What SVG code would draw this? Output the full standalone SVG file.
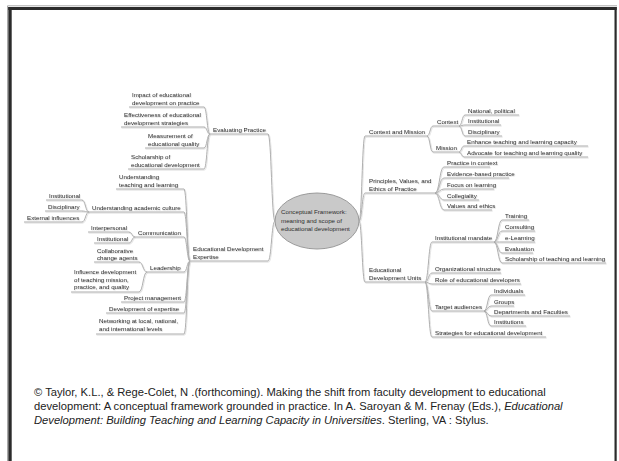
<svg xmlns="http://www.w3.org/2000/svg" width="619" height="461" viewBox="0 0 619 461">
<defs>
<style>
.t{font-family:"Liberation Sans",Arial,sans-serif;font-size:6.2px;fill:#2e2e2e}
.u{stroke:#b0b0b0;stroke-width:1;fill:none}
.c{stroke:#b0b0b0;stroke-width:1;fill:none}
.f{font-family:"Liberation Sans",Arial,sans-serif;font-size:11.2px;fill:#222}
.i{font-style:italic}
</style>
<filter id="sh" x="-5%" y="-5%" width="110%" height="110%"><feDropShadow dx="0.6" dy="0.8" stdDeviation="0.4" flood-color="#000" flood-opacity="0.18"/></filter>
</defs>
<rect width="619" height="461" fill="#fff"/>
<g id="frame">
<path d="M7.5,461V5.8H617" fill="none" stroke="#aaa" stroke-width="1"/>
<rect x="8.3" y="7" width="3.4" height="454" fill="#2b2b2b"/>
<rect x="8.3" y="7" width="608.4" height="3" fill="#2b2b2b"/>
<rect x="614.5" y="7" width="2.2" height="454" fill="#2b2b2b"/>
</g>
<g id="connectors" filter="url(#sh)">
<path class="c" d="M275,221C271.5,221 271.5,134 268,134"/>
<path class="c" d="M275,221C271.5,221 271.5,261 268,261"/>
<path class="c" d="M210,134C207,134 207,107 204,107"/>
<path class="c" d="M210,134C207,134 207,127 204,127"/>
<path class="c" d="M210,134C207,134 207,148 204,148"/>
<path class="c" d="M210,134C207,134 207,169 204,169"/>
<path class="c" d="M190,261C187,261 187,189 184,189"/>
<path class="c" d="M190,261C187,261 187,212 184,212"/>
<path class="c" d="M190,261C187,261 187,237 184,237"/>
<path class="c" d="M190,261C187,261 187,272 184,272"/>
<path class="c" d="M190,261C187,261 187,302 184,302"/>
<path class="c" d="M190,261C187,261 187,313 184,313"/>
<path class="c" d="M190,261C187,261 187,334 184,334"/>
<path class="c" d="M89,212C85.5,212 85.5,200 82,200"/>
<path class="c" d="M89,212C85.5,212 85.5,211 82,211"/>
<path class="c" d="M89,212C85.5,212 85.5,222 82,222"/>
<path class="c" d="M135,237C132,237 132,232 129,232"/>
<path class="c" d="M135,237C132,237 132,243 129,243"/>
<path class="c" d="M147,272C143,272 143,262 139,262"/>
<path class="c" d="M147,272C143,272 143,292 139,292"/>
<path class="c" d="M359,221C362,221 362,136 365,136"/>
<path class="c" d="M359,221C362,221 362,193 365,193"/>
<path class="c" d="M359,221C362,221 362,282 365,282"/>
<path class="c" d="M427,136C430,136 430,126 433,126"/>
<path class="c" d="M427,136C430,136 430,152 433,152"/>
<path class="c" d="M459,126C462,126 462,115 465,115"/>
<path class="c" d="M459,126C462,126 462,125 465,125"/>
<path class="c" d="M459,126C462,126 462,136 465,136"/>
<path class="c" d="M459,152C461.5,152 461.5,146 464,146"/>
<path class="c" d="M459,152C461.5,152 461.5,157 464,157"/>
<path class="c" d="M435,193C439.5,193 439.5,167 444,167"/>
<path class="c" d="M435,193C439.5,193 439.5,178 444,178"/>
<path class="c" d="M435,193C439.5,193 439.5,189 444,189"/>
<path class="c" d="M435,193C439.5,193 439.5,200 444,200"/>
<path class="c" d="M435,193C439.5,193 439.5,210 444,210"/>
<path class="c" d="M425,282C428.5,282 428.5,242 432,242"/>
<path class="c" d="M425,282C428.5,282 428.5,273 432,273"/>
<path class="c" d="M425,282C428.5,282 428.5,284 432,284"/>
<path class="c" d="M425,282C428.5,282 428.5,311 432,311"/>
<path class="c" d="M425,282C428.5,282 428.5,337 432,337"/>
<path class="c" d="M494,242C498,242 498,220 502,220"/>
<path class="c" d="M494,242C498,242 498,231 502,231"/>
<path class="c" d="M494,242C498,242 498,242 502,242"/>
<path class="c" d="M494,242C498,242 498,253 502,253"/>
<path class="c" d="M494,242C498,242 498,263 502,263"/>
<path class="c" d="M484,311C487.5,311 487.5,295 491,295"/>
<path class="c" d="M484,311C487.5,311 487.5,306 491,306"/>
<path class="c" d="M484,311C487.5,311 487.5,316 491,316"/>
<path class="c" d="M484,311C487.5,311 487.5,326 491,326"/>
</g>
<g id="n-center">
<ellipse cx="317" cy="221" rx="42" ry="28" fill="#c9c9c9" stroke="#9a9a9a" stroke-width="1"/>
<text class="t" x="281" y="214"><tspan x="281">Conceptual Framework:</tspan><tspan x="281" dy="8.5">meaning and scope of</tspan><tspan x="281" dy="8.5">educational development</tspan></text>
</g>
<g id="nodes-left" filter="url(#sh)">
<g id="n-ep"><text class="t" x="213" y="132.2">Evaluating Practice</text><path class="u" d="M210,134H268"/></g>
<g id="n-impact"><text class="t" x="132" y="97.2"><tspan x="132">Impact of educational</tspan><tspan x="132" dy="7.8">development on practice</tspan></text><path class="u" d="M129,107H204"/></g>
<g id="n-effect"><text class="t" x="124" y="117.2"><tspan x="124">Effectiveness of educational</tspan><tspan x="124" dy="7.8">development strategies</tspan></text><path class="u" d="M121,127H204"/></g>
<g id="n-measure"><text class="t" x="148" y="138.2"><tspan x="148">Measurement of</tspan><tspan x="148" dy="7.8">educational quality</tspan></text><path class="u" d="M145,148H204"/></g>
<g id="n-scholar"><text class="t" x="131" y="159.2"><tspan x="131">Scholarship of</tspan><tspan x="131" dy="7.8">educational development</tspan></text><path class="u" d="M128,169H204"/></g>
<g id="n-ede"><text class="t" x="193" y="251.2"><tspan x="193">Educational Development</tspan><tspan x="193" dy="7.8">Expertise</tspan></text><path class="u" d="M190,261H268"/></g>
<g id="n-utl"><text class="t" x="119" y="179.2"><tspan x="119">Understanding</tspan><tspan x="119" dy="7.8">teaching and learning</tspan></text><path class="u" d="M116,189H184"/></g>
<g id="n-uac"><text class="t" x="92" y="210.2">Understanding academic culture</text><path class="u" d="M89,212H184"/></g>
<g id="n-uac-inst"><text class="t" x="49" y="198.2">Institutional</text><path class="u" d="M46,200H82"/></g>
<g id="n-uac-disc"><text class="t" x="48" y="209.2">Disciplinary</text><path class="u" d="M45,211H82"/></g>
<g id="n-uac-ext"><text class="t" x="27" y="220.2">External influences</text><path class="u" d="M24,222H82"/></g>
<g id="n-comm"><text class="t" x="138" y="235.2">Communication</text><path class="u" d="M135,237H184"/></g>
<g id="n-comm-inter"><text class="t" x="91" y="230.2">Interpersonal</text><path class="u" d="M88,232H129"/></g>
<g id="n-comm-inst"><text class="t" x="97" y="241.2">Institutional</text><path class="u" d="M94,243H129"/></g>
<g id="n-lead"><text class="t" x="150" y="270.2">Leadership</text><path class="u" d="M147,272H184"/></g>
<g id="n-collab"><text class="t" x="97" y="252.5"><tspan x="97">Collaborative</tspan><tspan x="97" dy="7.7">change agents</tspan></text><path class="u" d="M94,262H139"/></g>
<g id="n-influence"><text class="t" x="74" y="274.2"><tspan x="74">Influence development</tspan><tspan x="74" dy="7.6">of teaching mission,</tspan><tspan x="74" dy="7.6">practice, and quality</tspan></text><path class="u" d="M71,292H139"/></g>
<g id="n-pm"><text class="t" x="124" y="300.2">Project management</text><path class="u" d="M121,302H184"/></g>
<g id="n-doe"><text class="t" x="109" y="311.2">Development of expertise</text><path class="u" d="M106,313H184"/></g>
<g id="n-net"><text class="t" x="99" y="323.2"><tspan x="99">Networking at local, national,</tspan><tspan x="99" dy="7.8">and international levels</tspan></text><path class="u" d="M96,334H184"/></g>
</g>
<g id="nodes-right" filter="url(#sh)">
<g id="n-cm"><text class="t" x="369" y="134.2">Context and Mission</text><path class="u" d="M365,136H427"/></g>
<g id="n-context"><text class="t" x="437" y="124.2">Context</text><path class="u" d="M433,126H459"/></g>
<g id="n-natpol"><text class="t" x="468" y="113.2">National, political</text><path class="u" d="M465,115H519"/></g>
<g id="n-ctx-inst"><text class="t" x="468" y="123.2">Institutional</text><path class="u" d="M465,125H501"/></g>
<g id="n-ctx-disc"><text class="t" x="468" y="134.2">Disciplinary</text><path class="u" d="M465,136H502"/></g>
<g id="n-mission"><text class="t" x="436" y="150.2">Mission</text><path class="u" d="M433,152H459"/></g>
<g id="n-enhance"><text class="t" x="467" y="144.2">Enhance teaching and learning capacity</text><path class="u" d="M464,146H588"/></g>
<g id="n-advocate"><text class="t" x="467" y="155.2">Advocate for teaching and learning quality</text><path class="u" d="M464,157H588"/></g>
<g id="n-pve"><text class="t" x="369" y="183.2"><tspan x="369">Principles, Values, and</tspan><tspan x="369" dy="7.8">Ethics of Practice</tspan></text><path class="u" d="M365,193H435"/></g>
<g id="n-pic"><text class="t" x="447" y="165.2">Practice in context</text><path class="u" d="M444,167H490"/></g>
<g id="n-ebp"><text class="t" x="447" y="176.2">Evidence-based practice</text><path class="u" d="M444,178H509"/></g>
<g id="n-fol"><text class="t" x="447" y="187.2">Focus on learning</text><path class="u" d="M444,189H494"/></g>
<g id="n-coll"><text class="t" x="447" y="198.2">Collegiality</text><path class="u" d="M444,200H479"/></g>
<g id="n-vae"><text class="t" x="447" y="208.2">Values and ethics</text><path class="u" d="M444,210H492"/></g>
<g id="n-edu"><text class="t" x="369" y="272.2"><tspan x="369">Educational</tspan><tspan x="369" dy="7.8">Development Units</tspan></text><path class="u" d="M365,282H425"/></g>
<g id="n-im"><text class="t" x="435" y="240.2">Institutional mandate</text><path class="u" d="M432,242H494"/></g>
<g id="n-training"><text class="t" x="505" y="218.2">Training</text><path class="u" d="M502,220H529"/></g>
<g id="n-consult"><text class="t" x="505" y="229.2">Consulting</text><path class="u" d="M502,231H535"/></g>
<g id="n-elearn"><text class="t" x="505" y="240.2">e-Learning</text><path class="u" d="M502,242H535"/></g>
<g id="n-eval"><text class="t" x="505" y="251.2">Evaluation</text><path class="u" d="M502,253H533"/></g>
<g id="n-sotl"><text class="t" x="505" y="261.2">Scholarship of teaching and learning</text><path class="u" d="M502,263H606"/></g>
<g id="n-org"><text class="t" x="435" y="271.2">Organizational structure</text><path class="u" d="M432,273H501"/></g>
<g id="n-role"><text class="t" x="435" y="282.2">Role of educational developers</text><path class="u" d="M432,284H521"/></g>
<g id="n-ta"><text class="t" x="435" y="309.2">Target audiences</text><path class="u" d="M432,311H484"/></g>
<g id="n-indiv"><text class="t" x="494" y="293.2">Individuals</text><path class="u" d="M491,295H525"/></g>
<g id="n-groups"><text class="t" x="494" y="304.2">Groups</text><path class="u" d="M491,306H514"/></g>
<g id="n-depts"><text class="t" x="494" y="314.2">Departments and Faculties</text><path class="u" d="M491,316H570"/></g>
<g id="n-insts"><text class="t" x="494" y="324.2">Institutions</text><path class="u" d="M491,326H526"/></g>
<g id="n-strat"><text class="t" x="435" y="335.2">Strategies for educational development</text><path class="u" d="M432,337H546"/></g>
</g>
<g id="citation">
<text class="f" x="34" y="396">© Taylor, K.L., &amp; Rege-Colet, N .(forthcoming). Making the shift from faculty development to educational</text>
<text class="f" x="34" y="410">development: A conceptual framework grounded in practice. In A. Saroyan &amp; M. Frenay (Eds.), <tspan class="i">Educational</tspan></text>
<text class="f" x="34" y="424"><tspan class="i">Development: Building Teaching and Learning Capacity in Universities</tspan>. Sterling, VA : Stylus.</text>
</g>
</svg>
